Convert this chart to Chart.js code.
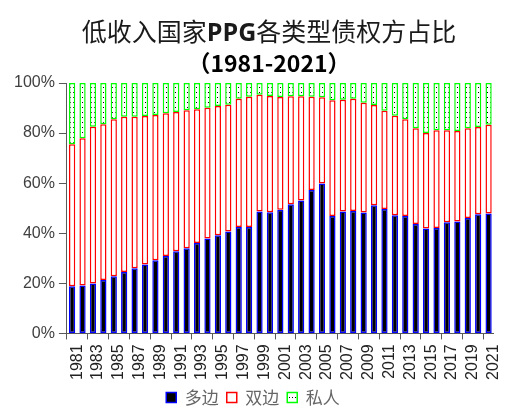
<!DOCTYPE html>
<html><head><meta charset="utf-8">
<script src="https://cdn.jsdelivr.net/npm/chart.js@4"></script>
<style>
html,body{margin:0;padding:0;background:#fff;overflow:hidden}
#wrap{position:relative;width:513px;height:412px}
#c{position:absolute;left:0;top:0}
.t{position:absolute;left:0;width:538px;text-align:center;font-family:"Noto Sans CJK SC","Noto Sans",sans-serif;white-space:nowrap}
#t1{top:16px;font-size:25px;line-height:28px;color:#1a1a1a}
#t1 b{font-family:"Open Sans","Noto Sans",sans-serif;font-weight:700}
#t2{top:49px;font-size:23px;line-height:26px;font-weight:700;color:#000}
</style>
</head><body>
<div id="wrap">
<canvas id="c" width="513" height="412"></canvas>
<div class="t" id="t1">低收入国家<b>PPG</b>各类型债权方占比</div>
<div class="t" id="t2">（1981-2021）</div>
</div>
<script>
const years = ['1981','1982','1983','1984','1985','1986','1987','1988','1989','1990',
  '1991','1992','1993','1994','1995','1996','1997','1998','1999','2000',
  '2001','2002','2003','2004','2005','2006','2007','2008','2009','2010',
  '2011','2012','2013','2014','2015','2016','2017','2018','2019','2020','2021'];
const multilateral = [18.8,19.1,19.9,21.3,22.8,24.5,26.0,27.5,29.2,30.9,
  32.8,34.0,36.1,37.9,39.2,40.7,42.5,42.5,48.7,48.4,
  49.4,51.6,53.1,57.3,59.9,46.9,48.7,48.9,48.3,51.2,
  49.7,47.2,46.9,43.7,41.9,42.1,44.4,44.7,46.1,47.6,47.9];
const bilateral = [56.7,58.8,62.6,62.2,62.7,62.0,60.5,59.3,58.0,57.0,
  55.6,55.1,53.4,52.2,51.6,50.6,51.2,52.0,46.6,46.4,
  45.0,43.1,41.6,37.2,34.4,46.2,44.6,44.8,43.8,40.0,
  39.2,39.7,38.6,38.2,38.1,39.0,36.7,36.1,35.8,34.8,35.4];
const privateCreditors = [24.5,22.1,17.5,16.5,14.5,13.5,13.5,13.2,12.8,12.1,
  11.6,10.9,10.5,9.9,9.2,8.7,6.3,5.5,4.7,5.2,
  5.6,5.3,5.3,5.5,5.7,6.9,6.7,6.3,7.9,8.8,
  11.1,13.1,14.5,18.1,20.0,18.9,18.9,19.2,18.1,17.6,16.7];
const seriesNames = ['多边','双边','私人'];

const canvas = document.getElementById('c');
const ctx = canvas.getContext('2d');
const tile = document.createElement('canvas');
tile.width = 3; tile.height = 5;
const tg = tile.getContext('2d');
tg.fillStyle = '#fff'; tg.fillRect(0,0,3,5);
tg.fillStyle = '#000'; tg.fillRect(1,2,1,1);
const dotPattern = ctx.createPattern(tile, 'repeat');

new Chart(ctx, {
  type: 'bar',
  data: {
    labels: years,
    datasets: [
      {label: seriesNames[0], data: multilateral, backgroundColor: '#000000', borderColor: '#0000ff', borderWidth: 1.5, borderSkipped: false},
      {label: seriesNames[1], data: bilateral, backgroundColor: '#ffffff', borderColor: '#ff0000', borderWidth: 1.5, borderSkipped: false},
      {label: seriesNames[2], data: privateCreditors, backgroundColor: dotPattern, borderColor: '#00ff00', borderWidth: 1.5, borderSkipped: false}
    ]
  },
  options: {
    responsive: false,
    animation: false,
    barPercentage: 0.6,
    categoryPercentage: 1,
    layout: {padding: {top: 83, left: 10, right: 17, bottom: 1}},
    plugins: {
      title: {display: false},
      tooltip: {enabled: false},
      legend: {
        position: 'bottom',
        maxHeight: 30,
        labels: {
          boxWidth: 10, boxHeight: 10, padding: 8,
          color: '#666',
          font: {family: '"Noto Sans CJK SC", sans-serif', size: 17}
        }
      }
    },
    scales: {
      x: {
        stacked: true,
        offset: true,
        afterFit: (s) => { s.height -= 4; },
        grid: {
          display: true, drawOnChartArea: false, offset: true, tickLength: 6,
          color: (c) => (c.index % 2 === 0 ? '#595959' : 'rgba(0,0,0,0)')
        },
        border: {color: '#595959', width: 1},
        ticks: {
          autoSkip: false, minRotation: 90, maxRotation: 90, padding: 5, labelOffset: 5,
          color: '#222', font: {family: '"Liberation Sans", Arial, sans-serif', size: 16},
          callback: function (v, i) { return i % 2 === 0 ? this.getLabelForValue(v) : ''; }
        }
      },
      y: {
        stacked: true,
        min: 0, max: 100,
        grid: {display: true, drawOnChartArea: false, tickLength: 8, color: '#595959'},
        border: {color: '#595959', width: 1},
        ticks: {
          stepSize: 20, padding: 4, color: '#404040',
          font: {family: '"Liberation Sans", Arial, sans-serif', size: 16},
          callback: (v) => v + '%'
        }
      }
    }
  }
});
</script>
</body></html>
